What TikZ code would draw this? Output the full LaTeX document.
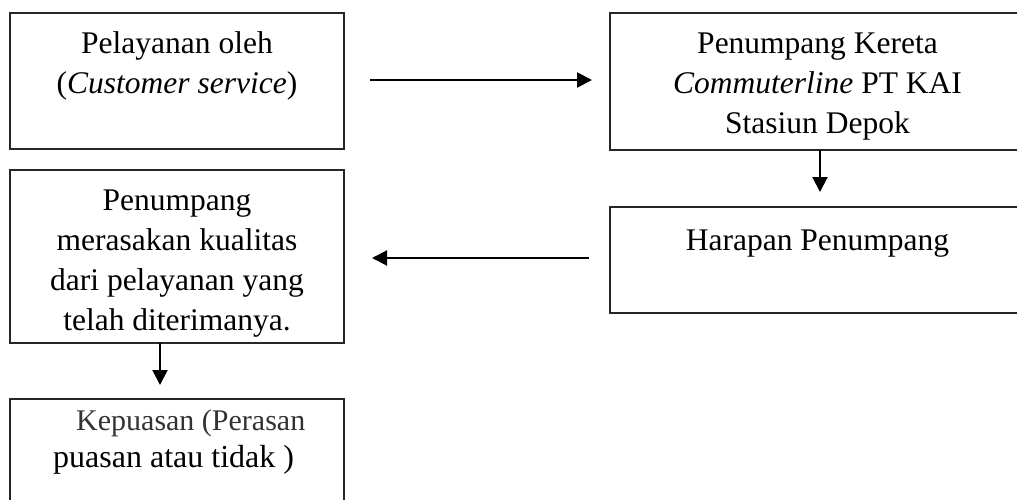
\documentclass[tikz,border=0pt]{standalone}
\usepackage{fontspec}
\setmainfont{Liberation Serif}
\usetikzlibrary{arrows.meta}
\begin{document}
\begin{tikzpicture}[x=1pt,y=-1pt,
  box/.style={draw=black!85, line width=1.5pt, inner sep=0pt, outer sep=0pt},
  txt/.style={inner sep=0pt, align=center, font=\fontsize{31.5}{40}\selectfont},
  arr/.style={line width=2pt, -{Triangle[length=15pt,width=15pt]}}]
\useasboundingbox[fill=white] (0,0) rectangle (1017,499);
% boxes
\node[box, minimum width=334pt, minimum height=136pt] (b1) at (177,81) {};
\node[box, minimum width=415pt, minimum height=137pt] (b2) at (817.5,81.5) {};
\node[box, minimum width=334pt, minimum height=173pt] (b3) at (177,256.5) {};
\node[box, minimum width=415pt, minimum height=106pt] (b4) at (817.5,260) {};
\node[box, minimum width=334pt, minimum height=116pt] (b5) at (177,457) {};
% texts
\node[txt, anchor=north] (t1) at ([yshift=-12pt]b1.north)
  {\strut Pelayanan oleh\\\strut (\textit{Customer service})};
\node[txt, anchor=north] (t2) at ([yshift=-12pt]b2.north)
  {\strut Penumpang Kereta\\\strut \textit{Commuterline} PT KAI\\\strut Stasiun Depok};
\node[txt, anchor=north] (t3) at ([yshift=-12pt]b3.north)
  {\strut Penumpang\\\strut merasakan kualitas\\\strut dari pelayanan yang\\\strut telah diterimanya.};
\node[txt, anchor=north] (t4) at ([yshift=-15pt]b4.north) {\strut Harapan Penumpang};
\node[inner sep=0pt, align=left, anchor=north west, font=\fontsize{30}{37}\selectfont] (t5)
  at ([xshift=43pt,yshift=-5.1pt]b5.north west)
  {\strut\hspace*{23pt}{\color{black!80}Kepuasan (Perasan}\\\fontsize{32}{37}\selectfont\strut puasan atau tidak )};
% arrow end points
\coordinate (a1s) at (370,80);
\coordinate (a1e) at (592,80);
\coordinate (a2e) at (820,192);
\coordinate (a3s) at (589,258);
\coordinate (a3e) at (372,258);
\coordinate (a4e) at (160,385);
% arrows
\draw[arr] (a1s) -- (a1e);
\draw[arr] ([xshift=2.5pt]b2.south) -- (a2e);
\draw[arr] (a3s) -- (a3e);
\draw[arr] ([xshift=-17pt]b3.south) -- (a4e);
\end{tikzpicture}
\end{document}
